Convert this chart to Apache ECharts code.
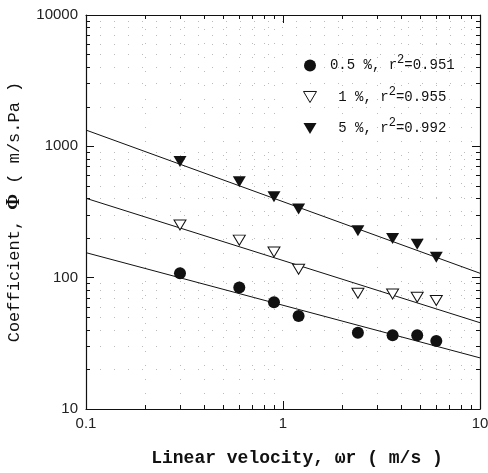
<!DOCTYPE html>
<html>
<head>
<meta charset="utf-8">
<script src="https://cdn.jsdelivr.net/npm/echarts@6/dist/echarts.min.js"></script>
<style>
  html, body { margin: 0; padding: 0; background: #fff; }
  #chart { width: 488px; height: 473px; }
</style>
</head>
<body>
<div id="chart"></div>
<script>
// Linear velocity (m/s) at which each coefficient was measured
const velocity = [0.3, 0.6, 0.9, 1.2, 2.4, 3.6, 4.8, 6.0];

// Coefficient readings per concentration
const phi05 = [108, 84, 65, 51, 38, 36.5, 36.5, 33];
const phi1 = [252, 193, 157, 116, 76, 75, 71, 67];
const phi5 = [765, 537, 413, 333, 228, 199, 180, 143];

// Power-law fit lines, evaluated at the axis ends
const fitX = [0.1, 10];
const fit05 = [155, 24.5];
const fit1 = [402, 45.4];
const fit5 = [1330, 108];

const seriesNames = ['0.5 %', '1 %', '5 %'];
const r2 = ['0.951', '0.955', '0.992'];

const downTri = 'path://M0,0L20,0L10,17Z';
const ink = '#111';

const chart = echarts.init(document.getElementById('chart'));

const logAxis = (extra) => Object.assign({
  type: 'log',
  logBase: 10,
  axisLine: { show: true, onZero: false, lineStyle: { color: ink, width: 1.2 } },
  axisTick: { show: true, inside: true, length: 8, lineStyle: { color: ink } },
  minorTick: { show: true, splitNumber: 9, length: 4, lineStyle: { color: ink } },
  splitLine: { show: false },
  minorSplitLine: { show: true, lineStyle: { color: '#bbb', type: [1, 13], width: 1 } },
}, extra);

const tickFont = {
  color: '#222', fontFamily: 'Liberation Sans', fontSize: 15,
  formatter: (v) => String(v),
};

const fitSeries = (data) => ({
  type: 'line',
  data: fitX.map((x, i) => [x, data[i]]),
  symbol: 'none',
  silent: true,
  lineStyle: { color: ink, width: 1 },
  z: 1,
});

chart.setOption({
  animation: false,
  grid: { left: 86, right: 8, top: 15, bottom: 64, outerBoundsMode: 'none' },
  xAxis: [
    logAxis({
      min: 0.1, max: 10, position: 'bottom',
      axisLabel: Object.assign({ margin: 7 }, tickFont),
      name: 'Linear velocity, ωr ( m/s )',
      nameLocation: 'middle',
      nameGap: 40,
      nameTextStyle: {
        fontFamily: 'Liberation Mono', fontWeight: 'bold', fontSize: 18, color: ink,
        padding: [0, 0, 0, 28],
      },
    }),
    logAxis({
      min: 0.1, max: 10, position: 'top',
      axisLabel: { show: false },
      minorSplitLine: { show: false },
    }),
  ],
  yAxis: [
    logAxis({
      min: 10, max: 10000, position: 'left',
      axisLabel: Object.assign({ margin: 8 }, tickFont),
      name: 'Coefficient, {b|Φ} ( m/s.Pa )',
      nameLocation: 'middle',
      nameGap: 62,
      nameTextStyle: {
        fontFamily: 'Liberation Mono', fontSize: 17, color: ink,
        rich: { b: { fontFamily: 'Liberation Serif', fontWeight: 'bold', fontSize: 19, color: ink } },
      },
    }),
    logAxis({
      min: 10, max: 10000, position: 'right',
      axisLabel: { show: false },
      minorSplitLine: { show: false },
    }),
  ],
  legend: {
    data: seriesNames,
    orient: 'vertical',
    left: 298,
    top: 49,
    itemGap: 13,
    itemWidth: 13,
    itemHeight: 12,
    itemStyle: { borderWidth: 1 },
    formatter: (name) => {
      const i = seriesNames.indexOf(name);
      const pad = name.length < 5 ? '  ' : ' ';
      return pad + name + ', r{s|2}=' + r2[i];
    },
    textStyle: {
      fontFamily: 'Liberation Mono', fontSize: 14, color: ink,
      rich: { s: { fontFamily: 'Liberation Mono', fontSize: 12, color: ink, padding: [0, 0, 11, 0] } },
    },
  },
  series: [
    fitSeries(fit05),
    fitSeries(fit1),
    fitSeries(fit5),
    {
      name: seriesNames[0], type: 'scatter',
      data: velocity.map((x, i) => [x, phi05[i]]),
      symbol: 'circle', symbolSize: 12,
      itemStyle: { color: ink, opacity: 1 },
      z: 3,
    },
    {
      name: seriesNames[1], type: 'scatter',
      data: velocity.map((x, i) => [x, phi1[i]]),
      symbol: downTri, symbolSize: [12, 10],
      itemStyle: { color: '#fff', borderColor: ink, borderWidth: 1, opacity: 1 },
      z: 3,
    },
    {
      name: seriesNames[2], type: 'scatter',
      data: velocity.map((x, i) => [x, phi5[i]]),
      symbol: downTri, symbolSize: [13, 11],
      itemStyle: { color: ink, opacity: 1 },
      z: 3,
    },
  ],
});
</script>
</body>
</html>
